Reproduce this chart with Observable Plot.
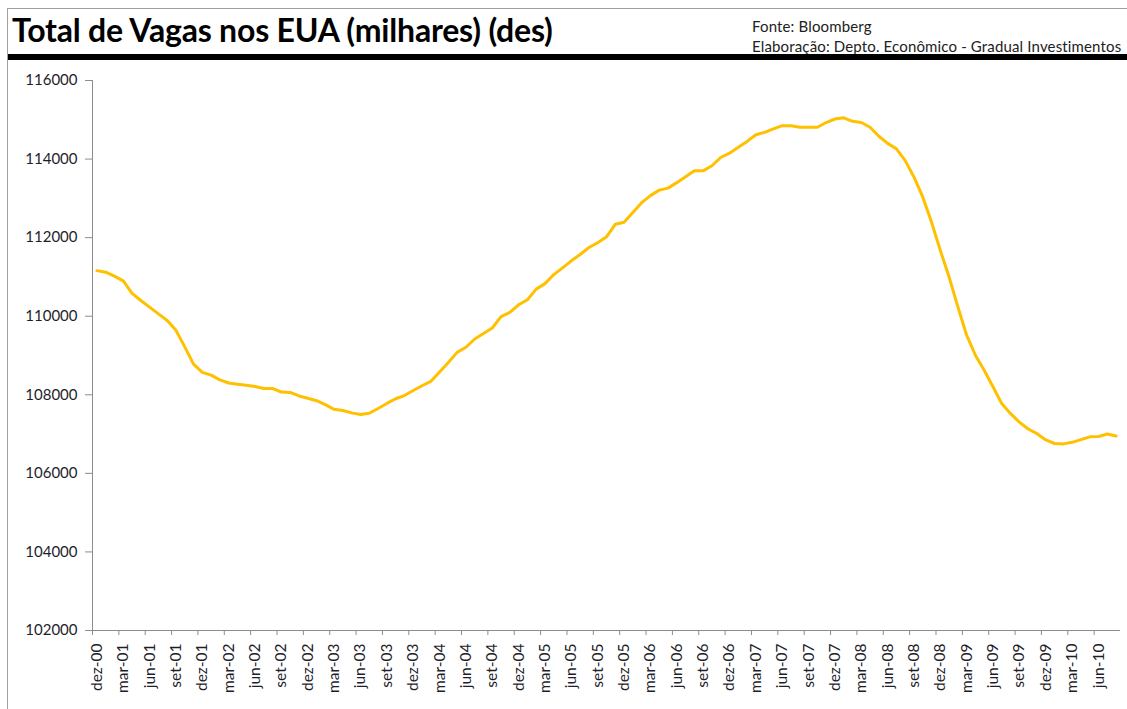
<!DOCTYPE html>
<html>
<head>
<meta charset="utf-8">
<script src="https://cdn.jsdelivr.net/npm/d3@7"></script>
<script src="https://cdn.jsdelivr.net/npm/@observablehq/plot@0.6"></script>
<style>
  html, body { margin: 0; padding: 0; background: #fff; }
  #frame { position: relative; width: 1127px; height: 709px; overflow: hidden; background: #fff; }
  #border { position: absolute; left: 7px; top: 8px; width: 1130px; height: 710px; border-left: 1px solid #a0a0a0; border-top: 1px solid #a0a0a0; }
  #title { position: absolute; left: 12px; top: 11px; font-family: Lato, sans-serif; font-weight: 700; font-size: 32px; line-height: 38px; color: #000; white-space: nowrap; letter-spacing: -0.2px; }
  #source { position: absolute; left: 752px; top: 16px; font-family: Lato, sans-serif; font-size: 15px; line-height: 20px; letter-spacing: 0.15px; color: #222; white-space: nowrap; }
  #bar { position: absolute; left: 8px; top: 54px; width: 1119px; height: 6px; background: #000; }
  #chart { position: absolute; left: 0; top: 60px; }
</style>
</head>
<body>
<div id="frame">
  <div id="border"></div>
  <div id="title">Total de Vagas nos EUA (milhares) (des)</div>
  <div id="source">Fonte: Bloomberg<br>Elaboração: Depto. Econômico - Gradual Investimentos</div>
  <div id="bar"></div>
  <div id="chart"></div>
</div>
<script>
// Monthly values, dez-00 .. ago-10 (thousands)
const values = [
  111160, 111120, 111020, 110900, 110580, 110400, 110230, 110060, 109890, 109640,
  109220, 108780, 108570, 108500, 108380, 108300, 108270, 108240, 108210, 108160,
  108160, 108070, 108060, 107970, 107910, 107850, 107750, 107630, 107600, 107540,
  107500, 107530, 107650, 107780, 107900, 107980, 108110, 108230, 108340, 108580,
  108820, 109080, 109210, 109420, 109560, 109700, 109990, 110100, 110290, 110420,
  110690, 110830, 111060, 111230, 111410, 111570, 111750, 111870, 112020, 112340,
  112390, 112640, 112890, 113070, 113210, 113260, 113400, 113550, 113700, 113700,
  113830, 114040, 114150, 114300, 114450, 114620, 114680, 114770, 114850, 114850,
  114810, 114810, 114810, 114930, 115020, 115050, 114960, 114930, 114810, 114580,
  114400, 114260, 113960, 113540, 113030, 112390, 111670, 110990, 110230, 109510,
  109000, 108620, 108200, 107770, 107520, 107300, 107130, 107010, 106850, 106760,
  106750, 106790, 106860, 106930, 106940, 107000, 106950
];

// Quarterly category labels (every 3rd month starting at dez-00)
const tickLabels = [
  "dez-00","mar-01","jun-01","set-01","dez-01","mar-02","jun-02","set-02",
  "dez-02","mar-03","jun-03","set-03","dez-03","mar-04","jun-04","set-04",
  "dez-04","mar-05","jun-05","set-05","dez-05","mar-06","jun-06","set-06",
  "dez-06","mar-07","jun-07","set-07","dez-07","mar-08","jun-08","set-08",
  "dez-08","mar-09","jun-09","set-09","dez-09","mar-10","jun-10"
];

const yTicks = [102000, 104000, 106000, 108000, 110000, 112000, 114000, 116000];

const data = values.map((v, i) => ({i, v}));
const n = values.length;
const labelPos = tickLabels.map((_, k) => 3 * k);
const boundaryPos = tickLabels.map((_, k) => 3 * k - 0.5);

const chart = Plot.plot({
  width: 1127,
  height: 649,
  marginTop: 20,
  marginBottom: 79,
  marginLeft: 92,
  marginRight: 7,
  x: {domain: [-0.5, n - 0.5]},
  y: {domain: [102000, 116000]},
  style: {fontFamily: "Lato, sans-serif", background: "transparent", color: "#222"},
  marks: [
    Plot.axisY({ticks: yTicks, tickSize: 7, tickPadding: 8, tickFormat: d => String(d),
      fontSize: 15, stroke: "#8c8c8c", fill: "#1e1e2a", label: null}),
    Plot.axisX({ticks: labelPos, tickFormat: d => tickLabels[Math.round(d / 3)], tickSize: 0,
      tickRotate: -90, tickPadding: 13, fontSize: 15.5, fill: "#1e1e2a", label: null}),
    Plot.axisX({ticks: boundaryPos, tickFormat: () => "", tickSize: 5, stroke: "#8c8c8c", label: null}),
    Plot.ruleY([102000], {stroke: "#8c8c8c"}),
    Plot.ruleX([-0.5], {stroke: "#8c8c8c"}),
    Plot.line(data, {x: "i", y: "v", stroke: "#FFC000", strokeWidth: 3, strokeLinejoin: "round"})
  ]
});
document.getElementById("chart").appendChild(chart);
</script>
</body>
</html>
